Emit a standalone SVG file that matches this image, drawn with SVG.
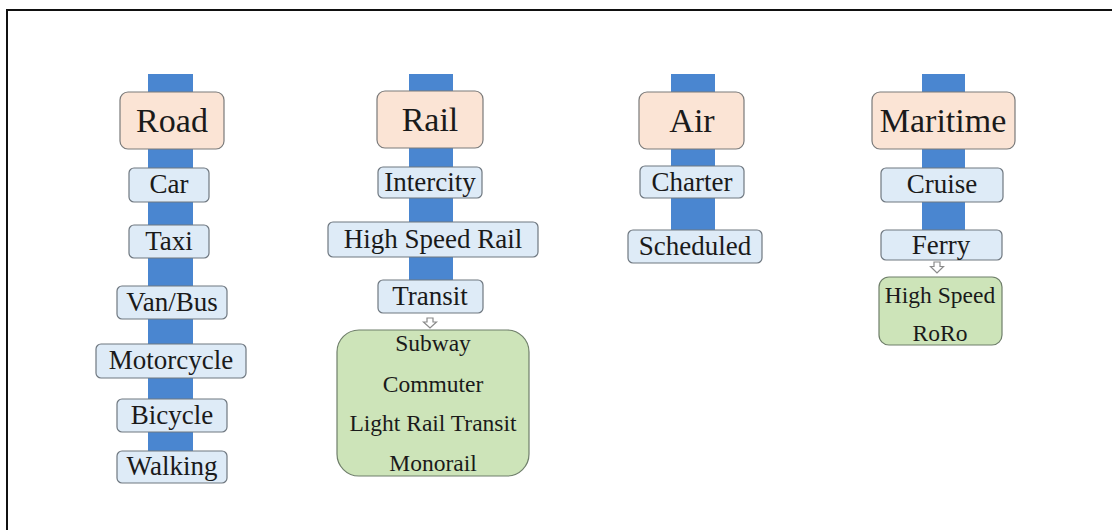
<svg xmlns="http://www.w3.org/2000/svg" width="1112" height="530" viewBox="0 0 1112 530">
<defs>
<style>
.bg{fill:#ffffff}
.frame{stroke:#111;stroke-width:2;fill:none}
.bar{fill:#4a86d0}
.hdr{fill:#fbe4d5;stroke:#7a7a7a;stroke-width:1.2}
.item{fill:#deebf7;stroke:#6f7880;stroke-width:1.2}
.grp{fill:#cde4b9;stroke:#6f7f6a;stroke-width:1.2}
.arw{fill:#ffffff;stroke:#8a8a8a;stroke-width:1.2}
text{font-family:'Liberation Serif',serif;fill:#1a1a1a;text-anchor:middle}
.th{font-size:34px}
.ti{font-size:27px}
.tg{font-size:23.5px}
</style>
</defs>
<rect class="bg" x="0" y="0" width="1112" height="530"/>
<path class="frame" d="M7,530 V10 H1112"/>
<g id="connectors">
<rect class="bar" x="148" y="74" width="45" height="392"/>
<rect class="bar" x="409" y="74" width="44" height="222"/>
<rect class="bar" x="671" y="74" width="44" height="172"/>
<rect class="bar" x="922" y="74" width="43" height="172"/>
<path class="arw" d="M427,318 h6 v4 h3.5 l-6.5,6 l-6.5,-6 h3.5 z"/>
<path class="arw" d="M934,262 h6 v4.5 h3.5 l-6.5,6.5 l-6.5,-6.5 h3.5 z"/>
</g>
<g id="road">
<rect class="hdr" x="120" y="92" width="104" height="57" rx="8"/>
<text class="th" x="172" y="132">Road</text>
</g>
<g id="car"><rect class="item" x="129" y="168" width="80" height="34" rx="5"/><text class="ti" x="169" y="193">Car</text></g>
<g id="taxi"><rect class="item" x="129" y="225" width="80" height="33" rx="5"/><text class="ti" x="169" y="250">Taxi</text></g>
<g id="vanbus"><rect class="item" x="117" y="286" width="110" height="33" rx="5"/><text class="ti" x="172" y="311">Van/Bus</text></g>
<g id="motorcycle"><rect class="item" x="96" y="344" width="150" height="34" rx="5"/><text class="ti" x="171" y="369">Motorcycle</text></g>
<g id="bicycle"><rect class="item" x="117" y="399" width="110" height="33" rx="5"/><text class="ti" x="172" y="424">Bicycle</text></g>
<g id="walking"><rect class="item" x="117" y="451" width="110" height="32" rx="5"/><text class="ti" x="172" y="475">Walking</text></g>
<g id="rail">
<rect class="hdr" x="377" y="91" width="106" height="57" rx="8"/>
<text class="th" x="430" y="131">Rail</text>
</g>
<g id="intercity"><rect class="item" x="378" y="167" width="104" height="31" rx="5"/><text class="ti" x="430" y="191">Intercity</text></g>
<g id="hsr"><rect class="item" x="328" y="222" width="210" height="35" rx="5"/><text class="ti" x="433" y="248">High Speed Rail</text></g>
<g id="transit"><rect class="item" x="378" y="280" width="105" height="33" rx="5"/><text class="ti" x="430" y="305">Transit</text></g>
<g id="transit-types">
<rect class="grp" x="337" y="330" width="192" height="146" rx="22"/>
<text class="tg" x="433" y="351">Subway</text>
<text class="tg" x="433" y="392">Commuter</text>
<text class="tg" x="433" y="431">Light Rail Transit</text>
<text class="tg" x="433" y="471">Monorail</text>
</g>
<g id="air">
<rect class="hdr" x="639" y="92" width="105" height="57" rx="8"/>
<text class="th" x="692" y="132">Air</text>
</g>
<g id="charter"><rect class="item" x="640" y="166" width="104" height="32" rx="5"/><text class="ti" x="692" y="191">Charter</text></g>
<g id="scheduled"><rect class="item" x="628" y="230" width="134" height="33" rx="5"/><text class="ti" x="695" y="255">Scheduled</text></g>
<g id="maritime">
<rect class="hdr" x="872" y="92" width="143" height="57" rx="8"/>
<text class="th" x="943" y="132">Maritime</text>
</g>
<g id="cruise"><rect class="item" x="881" y="168" width="122" height="34" rx="5"/><text class="ti" x="942" y="193">Cruise</text></g>
<g id="ferry"><rect class="item" x="881" y="230" width="121" height="30" rx="5"/><text class="ti" x="941" y="254">Ferry</text></g>
<g id="ferry-types">
<rect class="grp" x="879" y="277" width="123" height="68" rx="10"/>
<text class="tg" x="940" y="303">High Speed</text>
<text class="tg" x="940" y="341">RoRo</text>
</g>
</svg>
